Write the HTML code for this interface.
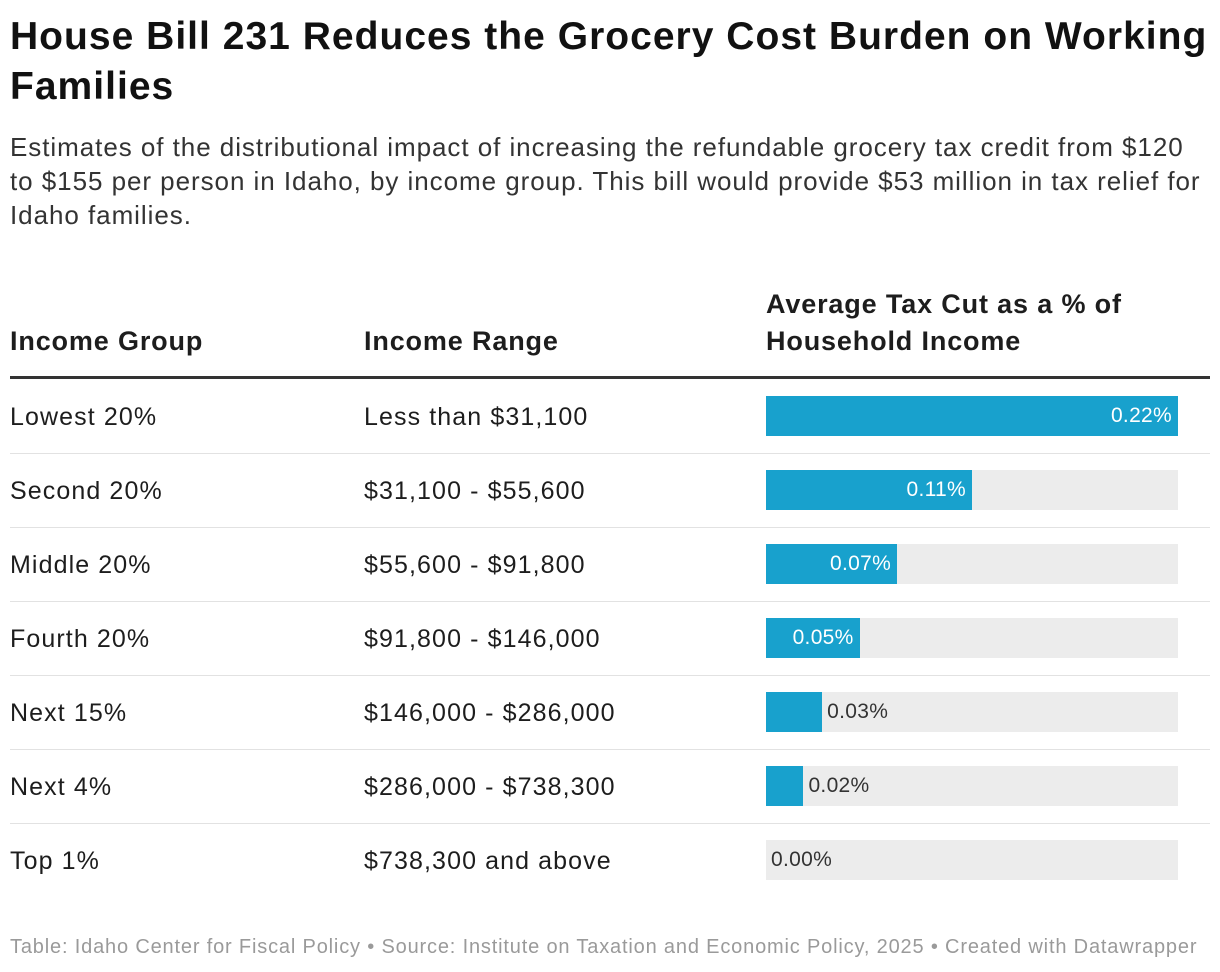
<!DOCTYPE html>
<html><head><meta charset="utf-8">
<style>
body{margin:0;width:1220px;height:972px;background:#fff;font-family:"Liberation Sans",sans-serif;color:#1d1d1d;position:relative;overflow:hidden}
.abs{position:absolute;white-space:nowrap}
h1{position:absolute;left:10px;top:12px;margin:0;font-size:39px;line-height:50px;font-weight:bold;width:1215px;letter-spacing:1.02px;white-space:nowrap;color:#111}
.sub{position:absolute;left:10px;top:130px;font-size:26px;line-height:34px;width:1210px;color:#333;letter-spacing:0.95px;white-space:nowrap}
.hd{position:absolute;font-weight:bold;font-size:27px;line-height:37px;letter-spacing:0.85px;white-space:nowrap}
.cell{position:absolute;font-size:25px;line-height:30px;letter-spacing:1.1px;white-space:nowrap}
.foot{position:absolute;left:10px;top:936px;font-size:20px;color:#9a9a9a;letter-spacing:0.83px}
</style></head><body>
<h1>House Bill 231 Reduces the Grocery Cost Burden on Working<br>Families</h1>
<div class="sub">Estimates of the distributional impact of increasing the refundable grocery tax credit from $120<br>to $155 per person in Idaho, by income group. This bill would provide $53 million in tax relief for<br>Idaho families.</div>
<div class="hd" style="left:10px;top:323px">Income Group</div>
<div class="hd" style="left:364px;top:323px">Income Range</div>
<div class="hd" style="left:766px;top:286px">Average Tax Cut as a % of<br>Household Income</div>
<div class="abs" style="left:10px;top:376px;width:1200px;height:3px;background:#333"></div>
<div id="rows"></div>
<div class="foot abs">Table: Idaho Center for Fiscal Policy • Source: Institute on Taxation and Economic Policy, 2025 • Created with Datawrapper</div>
<script>
const groups=["Lowest 20%","Second 20%","Middle 20%","Fourth 20%","Next 15%","Next 4%","Top 1%"];
const ranges=["Less than $31,100","$31,100 - $55,600","$55,600 - $91,800","$91,800 - $146,000","$146,000 - $286,000","$286,000 - $738,300","$738,300 and above"];
const values=[0.22,0.11,0.07,0.05,0.03,0.02,0.00];
const maxVal=0.22, barX=766, barW=412, rowTop=379, rowH=74;
const xScale=v=>v/maxVal*barW;
const root=document.getElementById('rows');
groups.forEach((g,i)=>{
  const y=rowTop+i*rowH;
  const c1=document.createElement('div');c1.className='cell';c1.style.left='10px';c1.style.top=(y+23)+'px';c1.textContent=g;
  
  
  root.appendChild(c1);
  const c2=document.createElement('div');c2.className='cell';c2.style.left='364px';c2.style.top=(y+23)+'px';c2.textContent=ranges[i];
  
  
  root.appendChild(c2);
  const bg=document.createElement('div');bg.className='abs';
  Object.assign(bg.style,{left:barX+'px',top:(y+17)+'px',width:barW+'px',height:'40px',background:'#ececec'});
  
  
  root.appendChild(bg);
  const w=xScale(values[i]);
  const b=document.createElement('div');b.className='abs';
  Object.assign(b.style,{left:barX+'px',top:(y+17)+'px',width:w+'px',height:'40px',background:'#18a1cd'});
  
  
  root.appendChild(b);
  const lab=document.createElement('div');lab.className='abs';
  lab.textContent=values[i].toFixed(2)+'%';
  lab.style.fontSize='21px';lab.style.letterSpacing='0.3px';lab.style.top=(y+25)+'px';
  const inside=w>80;
  if(inside){lab.style.color='#fff';lab.style.left=(barX+w-6)+'px';lab.style.transform='translateX(-100%)';}
  else{lab.style.color='#333';lab.style.left=(barX+w+5)+'px';}
  
  
  root.appendChild(lab);
  if(i<groups.length-1){
    const ln=document.createElement('div');ln.className='abs';
    Object.assign(ln.style,{left:'10px',top:(y+rowH)+'px',width:'1200px',height:'1px',background:'#e2e2e2'});
    
    
    root.appendChild(ln);
  }
});
</script>
</body></html>
